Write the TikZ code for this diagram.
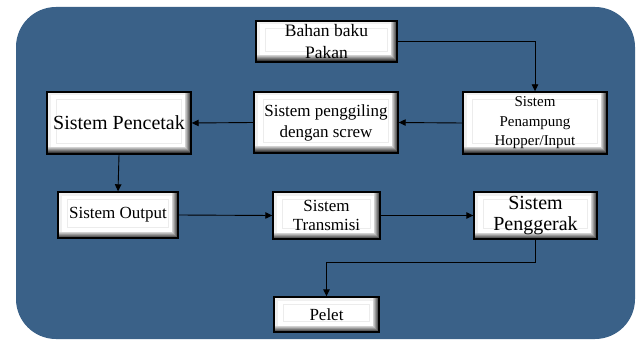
\documentclass[tikz,border=0pt]{standalone}
\usepackage{fontspec}
\setmainfont{Liberation Serif}
\usetikzlibrary{arrows.meta}
\definecolor{bgblue}{RGB}{58,97,136}
\tikzset{
  bev/.style={draw=black, line width=1.4pt, fill=white, inner sep=0pt, align=center,
    path picture={
      \def\bb{path picture bounding box}
      \fill[gray!12] (\bb.north west) rectangle ([yshift=-3.5pt]\bb.north east);
      \fill[gray!12] (\bb.north west) rectangle ([xshift=3.5pt]\bb.south west);
      \foreach \k/\c in {6.5/18,5.5/28,4.5/40,3.5/52,2.5/64,1.5/76}{
        \fill[black!\c] (\bb.south west) rectangle ([yshift=\k pt]\bb.south east);
        \fill[black!\c] (\bb.south east) rectangle ([xshift=-\k pt]\bb.north east);
      }
      \draw[gray!15, line width=0.5pt] ([xshift=9pt,yshift=-7pt]\bb.north west)
        rectangle ([xshift=-10pt,yshift=11pt]\bb.south east);
    }},
  conn/.style={draw=black, line width=0.9pt, -{Triangle[length=7pt,width=6.5pt]}},
  fs/.style={font=\fontsize{17}{20}\selectfont}
}
\begin{document}
\begin{tikzpicture}[x=1pt,y=-1pt]
\useasboundingbox (0,0) rectangle (640,342);
\fill[white] (0,0) rectangle (640,342);
\fill[bgblue, rounded corners=40pt] (16,7) rectangle (635,339);

\node[bev, minimum width=141pt, minimum height=41pt, font=\fontsize{17.5}{22}\selectfont] (bahan) at (326.5,41.5) {Bahan baku\\Pakan};
\node[bev, minimum width=144pt, minimum height=62pt, font=\fontsize{15}{19.5}\selectfont] (tampung) at (535,123) {Sistem\\Penampung\\Hopper/Input};
\node[bev, minimum width=144pt, minimum height=61pt, font=\fontsize{17}{21}\selectfont] (giling) at (326,122.5) {Sistem penggiling\\dengan screw};
\node[bev, minimum width=144pt, minimum height=62pt, font=\fontsize{20}{24}\selectfont] (cetak) at (119,123) {Sistem Pencetak};
\node[bev, minimum width=120pt, minimum height=46pt, fs] (output) at (118,215) {Sistem Output};
\node[bev, minimum width=107pt, minimum height=47pt, font=\fontsize{17}{18.5}\selectfont] (trans) at (326.5,215.5) {Sistem\\Transmisi};
\node[bev, minimum width=123pt, minimum height=47pt, font=\fontsize{20}{21}\selectfont] (gerak) at (535.5,215.5) {Sistem\\Penggerak};
\node[bev, minimum width=105pt, minimum height=35pt, fs] (pelet) at (326.5,314.5) {Pelet};

\coordinate (g1) at (535.5,262);
\coordinate (g2) at (326.5,262);

\draw[conn] (bahan.east) -| (tampung.north);
\draw[conn] (tampung.west) -- (giling.east);
\draw[conn] (giling.west) -- (cetak.east);
\draw[conn] (cetak.south) -- (output.north);
\draw[conn] (output.east) -- (trans.west);
\draw[conn] (trans.east) -- (gerak.west);
\draw[conn] (gerak.south) -- (g1) -- (g2) -- (pelet.north);
\end{tikzpicture}
\end{document}
